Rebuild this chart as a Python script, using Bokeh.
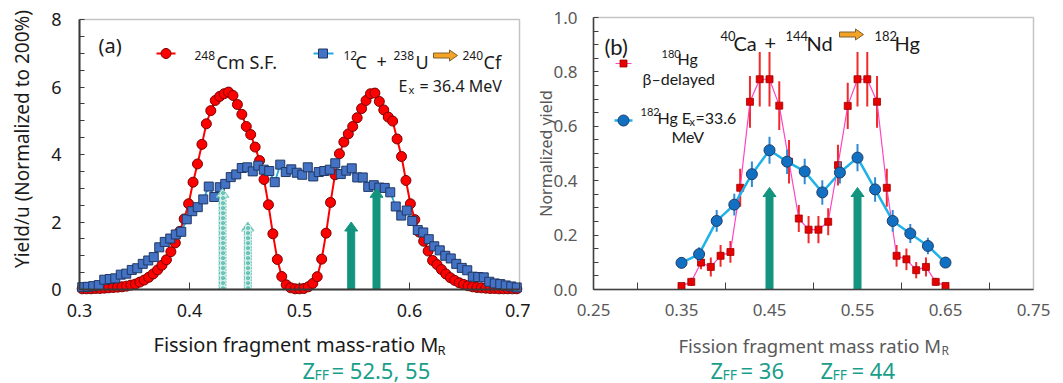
import math
from bokeh.plotting import figure
from bokeh.layouts import row
from bokeh.models import Label, FixedTicker, PrintfTickFormatter, Range1d, BoxAnnotation
from bokeh.embed import file_html
from bokeh.resources import INLINE

# ---------------- Panel (a) data ----------------
cm_compound_mass = 248
cm_mass_number = list(range(75, 174))          # 248Cm S.F. fragment masses
cm_yield = [
    0.02, 0.02, 0.02, 0.03, 0.03, 0.04, 0.05, 0.06, 0.07, 0.08,
    0.10, 0.13, 0.16, 0.22, 0.28, 0.36, 0.46, 0.58, 0.72, 0.88,
    1.12, 1.38, 1.72, 2.09, 2.54, 3.18, 3.72, 4.30, 4.91, 5.30,
    5.60, 5.72, 5.80, 5.85, 5.75, 5.48, 5.19, 4.83, 4.59, 4.22,
    3.82, 3.26, 2.51, 1.65, 0.89, 0.385, 0.14, 0.05, 0.02, 0.02,
    0.03, 0.08, 0.18, 0.38, 0.90, 1.67, 2.58, 3.40, 4.02, 4.37,
    4.61, 4.83, 5.09, 5.36, 5.60, 5.80, 5.82, 5.57, 5.32, 5.11,
    4.99, 4.46, 3.94, 3.23, 2.54, 2.07, 1.70, 1.43, 1.14, 0.86,
    0.74, 0.59, 0.46, 0.35, 0.27, 0.20, 0.15, 0.11, 0.08, 0.06,
    0.05, 0.04, 0.03, 0.03, 0.02, 0.02, 0.02, 0.02, 0.02,
]
cf_mass_ratio = [
    0.3025, 0.3075, 0.3125, 0.3175, 0.3225, 0.3275, 0.3325, 0.3375, 0.3425, 0.3475,
    0.3525, 0.3575, 0.3625, 0.3675, 0.3725, 0.3775, 0.3825, 0.3875, 0.3925, 0.3975,
    0.4025, 0.4075, 0.4125, 0.4175, 0.4225, 0.4275, 0.4325, 0.4375, 0.4425, 0.4475,
    0.4525, 0.4575, 0.4625, 0.4675, 0.4725, 0.4775, 0.4825, 0.4875, 0.4925, 0.4975,
    0.5025, 0.5075, 0.5125, 0.5175, 0.5225, 0.5275, 0.5325, 0.5375, 0.5425, 0.5475,
    0.5525, 0.5575, 0.5625, 0.5675, 0.5725, 0.5775, 0.5825, 0.5875, 0.5925, 0.5975,
    0.6025, 0.6075, 0.6125, 0.6175, 0.6225, 0.6275, 0.6325, 0.6375, 0.6425, 0.6475,
    0.6525, 0.6575, 0.6625, 0.6675, 0.6725, 0.6775, 0.6825, 0.6875, 0.6925, 0.6975,
]
cf_yield = [
    0.07, 0.08, 0.10, 0.13, 0.29, 0.31, 0.33, 0.44, 0.47, 0.58,
    0.63, 0.76, 0.86, 0.96, 1.25, 1.41, 1.51, 1.63, 1.71, 2.08,
    2.32, 2.44, 2.67, 3.05, 2.74, 3.03, 3.13, 3.33, 3.41, 3.60,
    3.62, 3.50, 3.67, 3.55, 3.51, 3.18, 3.70, 3.48, 3.56, 3.46,
    3.40, 3.62, 3.35, 3.48, 3.51, 3.55, 3.74, 3.42, 3.52, 3.59,
    3.32, 3.32, 3.04, 3.09, 3.02, 3.01, 2.88, 2.46, 2.19, 2.34,
    2.03, 1.76, 1.69, 1.49, 1.28, 1.16, 1.00, 0.92, 0.76, 0.64,
    0.57, 0.38, 0.37, 0.36, 0.23, 0.18, 0.16, 0.12, 0.09, 0.06,
]
a_x_ticks = [0.3, 0.4, 0.5, 0.6, 0.7]
a_y_ticks = [0, 2, 4, 6, 8]
a_y_minor = [0.5, 1, 1.5, 2.5, 3, 3.5, 4.5, 5, 5.5, 6.5, 7, 7.5]
a_solid_arrow_x = [0.547, 0.570]
a_solid_arrow_top = [2.0, 3.0]
a_hatched_arrow_x = [0.430, 0.453]
a_hatched_arrow_top = [3.0, 2.0]

# ---------------- Panel (b) data ----------------
hg180_mass_ratio = [0.3500, 0.3611, 0.3722, 0.3833, 0.3944, 0.4056, 0.4167, 0.4278,
                    0.4389, 0.4500, 0.4611, 0.4722, 0.4833, 0.4944, 0.5056, 0.5167,
                    0.5278, 0.5389, 0.5500, 0.5611, 0.5722, 0.5833, 0.5944, 0.6056,
                    0.6167, 0.6278, 0.6389, 0.6500]
hg180_yield = [0.013, 0.028, 0.099, 0.083, 0.124, 0.138, 0.374, 0.690,
               0.773, 0.773, 0.676, 0.470, 0.261, 0.220, 0.220, 0.249,
               0.457, 0.675, 0.773, 0.773, 0.690, 0.374, 0.124, 0.111,
               0.071, 0.083, 0.028, 0.013]
hg180_err = [0.010, 0.015, 0.025, 0.035, 0.040, 0.040, 0.070, 0.095,
             0.100, 0.100, 0.090, 0.080, 0.050, 0.050, 0.050, 0.050,
             0.075, 0.085, 0.100, 0.100, 0.095, 0.070, 0.040, 0.040,
             0.030, 0.035, 0.015, 0.010]
hg182_mass_ratio = [0.35, 0.37, 0.39, 0.41, 0.43, 0.45, 0.47, 0.49,
                    0.51, 0.53, 0.55, 0.57, 0.59, 0.61, 0.63, 0.65]
hg182_yield = [0.098, 0.130, 0.252, 0.312, 0.424, 0.512, 0.470, 0.434,
               0.357, 0.430, 0.485, 0.368, 0.252, 0.206, 0.160, 0.099]
hg182_err = [0.020, 0.025, 0.040, 0.040, 0.047, 0.050, 0.045, 0.047,
             0.045, 0.040, 0.050, 0.045, 0.040, 0.035, 0.030, 0.020]
b_x_ticks = [0.25, 0.35, 0.45, 0.55, 0.65, 0.75]
b_x_minor = [0.3, 0.4, 0.5, 0.6, 0.7]
b_y_ticks = [0.0, 0.2, 0.4, 0.6, 0.8, 1.0]
b_y_minor = [0.05, 0.1, 0.15, 0.25, 0.3, 0.35, 0.45, 0.5, 0.55, 0.65, 0.7, 0.75, 0.85, 0.9, 0.95]
b_arrow_x = [0.45, 0.55]
b_arrow_top = [0.375, 0.375]

# ---------------- styles ----------------
NOTO = "Noto Sans"
LATO = "Lato"
TEAL = "#12947f"
TEAL_TXT = "#1a9e8a"
GREY = "#595959"
BLACK = "#1a1a1a"

# layout (pixels inside each panel's canvas)
H = 383
A_W, A_L, A_R, A_T, A_B = 530, 79, 519, 19, 289
B_W, B_L, B_R, B_T, B_B = 533, 63, 503, 17, 289
A_X0, A_X1, A_Y0, A_Y1 = 0.3, 0.7, 0.0, 8.0
B_X0, B_X1, B_Y0, B_Y1 = 0.25, 0.75, 0.0, 1.0


def make_conv(L, R, T, B, x0, x1, y0, y1):
    sx = (R - L) / (x1 - x0)
    sy = (B - T) / (y1 - y0)

    def conv(px, py):
        return x0 + (px - L) / sx, y0 + (B - py) / sy
    return conv, sx, sy


conv_a, SXA, SYA = make_conv(A_L, A_R, A_T, A_B, A_X0, A_X1, A_Y0, A_Y1)
conv_b, SXB, SYB = make_conv(B_L, B_R, B_T, B_B, B_X0, B_X1, B_Y0, B_Y1)


def text(p, conv, txt, px, py, size, font=NOTO, color=BLACK, align="left",
         baseline="alphabetic", angle=0.0):
    x, y = conv(px, py)
    p.add_layout(Label(x=x, y=y, text=txt, text_font=font,
                       text_font_size=f"{size}px", text_color=color,
                       text_align=align, text_baseline=baseline, angle=angle))


def v_arrows(xs_c, tops, sx, sy, shaft=3.5, head=6.5, hl=9):
    xs, ys = [], []
    for xc, top in zip(xs_c, tops):
        ds, dh, dy = shaft / sx, head / sx, hl / sy
        xs.append([xc - ds, xc - ds, xc - dh, xc, xc + dh, xc + ds, xc + ds])
        ys.append([0, top - dy, top - dy, top, top - dy, top - dy, 0])
    return xs, ys


def h_arrow(p, conv, px0, px1, pyc, hs=2.5, hh=5.5, hl=8):
    pts = [(px0, pyc - hs), (px1 - hl, pyc - hs), (px1 - hl, pyc - hh), (px1, pyc),
           (px1 - hl, pyc + hh), (px1 - hl, pyc + hs), (px0, pyc + hs)]
    xs, ys = zip(*[conv(a, b) for a, b in pts])
    p.patch(list(xs), list(ys), fill_color="#f5a324", line_color="#7a6230", line_width=1)


def base_fig(W, conv, x0, x1, y0, y1, frame_color, frame_width):
    # the plotting frame spans the whole canvas so that texts outside the data box
    # are not clipped; the axes are pinned to the data box with fixed_location
    (xa, ya), (xb, yb) = conv(0, H), conv(W, 0)
    p = figure(frame_width=W, frame_height=H, min_border=0,
               x_range=Range1d(xa, xb), y_range=Range1d(ya, yb),
               output_backend="svg", toolbar_location=None)
    p.grid.visible = False
    p.outline_line_color = None
    p.background_fill_color = "white"
    p.border_fill_color = "white"
    p.xaxis.fixed_location = y0
    p.yaxis.fixed_location = x0
    p.xaxis.bounds = (x0, x1)
    p.yaxis.bounds = (y0, y1)
    for ax in (p.xaxis[0], p.yaxis[0]):
        ax.axis_line_color = frame_color
        ax.axis_line_width = frame_width
        ax.major_tick_line_color = frame_color
        ax.minor_tick_line_color = frame_color
        ax.major_tick_out = 0
        ax.minor_tick_out = 0
        ax.major_label_text_font = NOTO
    p.add_layout(BoxAnnotation(left=x0, right=x1, bottom=y0, top=y1, fill_alpha=0,
                               line_color=frame_color, line_width=1.5, level="underlay"))
    return p


# ================= Panel (a) =================
pa = base_fig(A_W, conv_a, A_X0, A_X1, A_Y0, A_Y1, "#3a3a3a", 2)
for ax in (pa.xaxis[0], pa.yaxis[0]):
    ax.major_label_text_font_size = "18px"
    ax.major_label_text_color = BLACK
pa.xaxis.ticker = FixedTicker(ticks=a_x_ticks)
pa.xaxis.formatter = PrintfTickFormatter(format="%.1f")
pa.xaxis.major_tick_in = 7
pa.xaxis.major_label_standoff = 14
pa.yaxis.ticker = FixedTicker(ticks=a_y_ticks, minor_ticks=a_y_minor)
pa.yaxis.major_tick_in = 5
pa.yaxis.minor_tick_in = 5
pa.yaxis.major_label_standoff = 18

cm_ratio = [a / cm_compound_mass for a in cm_mass_number]
pa.line(cm_ratio, cm_yield, line_color="#ff0000", line_width=2)
pa.scatter(cm_ratio, cm_yield, marker="circle", size=10, fill_color="#ff0000",
           line_color="#7a0000", line_width=1)
pa.line(cf_mass_ratio, cf_yield, line_color="#25a8e0", line_width=1.8)
pa.scatter(cf_mass_ratio, cf_yield, marker="square", size=9, fill_color="#4472c4",
           line_color="#1f3864", line_width=1)

hx, hy = v_arrows(a_hatched_arrow_x, a_hatched_arrow_top, SXA, SYA)
pa.patches(hx, hy, fill_color="#d3efea", line_color="#6cc4b7", line_width=1,
           line_dash="2 1", hatch_pattern="ring", hatch_color="#3aae9e",
           hatch_scale=5, hatch_weight=1.2)
sx_, sy_ = v_arrows(a_solid_arrow_x, a_solid_arrow_top, SXA, SYA)
pa.patches(sx_, sy_, fill_color=TEAL, line_color=TEAL, line_width=1)

# legend (a)
lx, ly = zip(*[conv_a(156, 53), conv_a(175, 53)])
pa.line(list(lx), list(ly), line_color="#ff0000", line_width=2)
mx, my = conv_a(165.5, 53)
pa.scatter([mx], [my], marker="circle", size=10, fill_color="#ff0000",
           line_color="#7a0000", line_width=1)
lx, ly = zip(*[conv_a(313, 53), conv_a(333, 53)])
pa.line(list(lx), list(ly), line_color="#25a8e0", line_width=1.8)
mx, my = conv_a(322.5, 53)
pa.scatter([mx], [my], marker="square", size=9, fill_color="#4472c4",
           line_color="#1f3864", line_width=1)

text(pa, conv_a, "(a)", 98, 45, 20)
text(pa, conv_a, "248", 194, 55, 12)
text(pa, conv_a, "Cm S.F.", 216, 61, 18)
text(pa, conv_a, "12", 343, 55, 12)
text(pa, conv_a, "C", 355, 61, 18)
text(pa, conv_a, "+", 376, 61, 18)
text(pa, conv_a, "238", 393, 55, 12)
text(pa, conv_a, "U", 415, 61, 18)
h_arrow(pa, conv_a, 433, 457, 55)
text(pa, conv_a, "240", 462, 55, 12)
text(pa, conv_a, "Cf", 483, 61, 18)
text(pa, conv_a, "E", 398, 85, 16)
text(pa, conv_a, "x", 408, 89, 11)
text(pa, conv_a, "= 36.4 MeV", 419, 85, 16)
text(pa, conv_a, "Fission fragment mass-ratio M", 153, 344, 20)
text(pa, conv_a, "R", 437, 349, 13)
text(pa, conv_a, "Z", 302, 369, 22, color=TEAL_TXT)
text(pa, conv_a, "FF", 314, 374, 14, color=TEAL_TXT)
text(pa, conv_a, "= 52.5, 55", 331, 369, 22, color=TEAL_TXT)
text(pa, conv_a, "Yield/u (Normalized to 200%)", 21, 138.5, 19, align="center",
     baseline="middle", angle=math.pi / 2)

# ================= Panel (b) =================
pb = base_fig(B_W, conv_b, B_X0, B_X1, B_Y0, B_Y1, "#404040", 1.5)
for ax in (pb.xaxis[0], pb.yaxis[0]):
    ax.major_label_text_font_size = "17px"
    ax.major_label_text_color = GREY
pb.xaxis.ticker = FixedTicker(ticks=b_x_ticks, minor_ticks=b_x_minor)
pb.xaxis.formatter = PrintfTickFormatter(format="%.2f")
pb.xaxis.major_tick_in = 0
pb.xaxis.minor_tick_in = 7
pb.xaxis.major_label_standoff = 14
pb.yaxis.ticker = FixedTicker(ticks=b_y_ticks, minor_ticks=b_y_minor)
pb.yaxis.formatter = PrintfTickFormatter(format="%.1f")
pb.yaxis.major_tick_in = 5
pb.yaxis.minor_tick_in = 5
pb.yaxis.major_label_standoff = 16

lo = [y - e for y, e in zip(hg180_yield, hg180_err)]
hi = [y + e for y, e in zip(hg180_yield, hg180_err)]
pb.segment(hg180_mass_ratio, lo, hg180_mass_ratio, hi, line_color="#f02a2a", line_width=2)
pb.line(hg180_mass_ratio, hg180_yield, line_color="#ff44c4", line_width=1.2)
pb.scatter(hg180_mass_ratio, hg180_yield, marker="square", size=7, fill_color="#e60000",
           line_color="#a00000", line_width=0.8)

lo = [y - e for y, e in zip(hg182_yield, hg182_err)]
hi = [y + e for y, e in zip(hg182_yield, hg182_err)]
pb.line(hg182_mass_ratio, hg182_yield, line_color="#1fb2e8", line_width=2.5)
pb.segment(hg182_mass_ratio, lo, hg182_mass_ratio, hi, line_color="#2f8bd8", line_width=2)
pb.scatter(hg182_mass_ratio, hg182_yield, marker="circle", size=11, fill_color="#1170c2",
           line_color="#1f3d6b", line_width=1)

bx, by = v_arrows(b_arrow_x, b_arrow_top, SXB, SYB)
pb.patches(bx, by, fill_color=TEAL, line_color=TEAL, line_width=1)

# legend (b)
lx, ly = zip(*[conv_b(85, 63), conv_b(101, 63)])
pb.line(list(lx), list(ly), line_color="#ff44c4", line_width=1.2)
mx, my = conv_b(93, 63)
pb.scatter([mx], [my], marker="square", size=7, fill_color="#e60000",
           line_color="#a00000", line_width=0.8)
lx, ly = zip(*[conv_b(84, 120), conv_b(102, 120)])
pb.line(list(lx), list(ly), line_color="#1fb2e8", line_width=2.5)
mx, my = conv_b(93, 120)
pb.scatter([mx], [my], marker="circle", size=11, fill_color="#1170c2",
           line_color="#1f3d6b", line_width=1)

text(pb, conv_b, "(b)", 74, 46, 22, font=LATO)
text(pb, conv_b, "40", 190, 35, 13, font=LATO)
text(pb, conv_b, "Ca", 203, 42, 20, font=LATO)
text(pb, conv_b, "+", 234, 42, 20, font=LATO)
text(pb, conv_b, "144", 255, 35, 13, font=LATO)
text(pb, conv_b, "Nd", 276, 42, 20, font=LATO)
h_arrow(pb, conv_b, 309, 333, 34)
text(pb, conv_b, "182", 344, 35, 13, font=LATO)
text(pb, conv_b, "Hg", 364, 42, 20, font=LATO)

text(pb, conv_b, "180", 131, 53, 11, font=LATO)
text(pb, conv_b, "Hg", 147, 58, 16, font=LATO)
text(pb, conv_b, "\u03b2\u2013delayed", 112, 78, 16, font=LATO)
text(pb, conv_b, "182", 110, 111, 11, font=LATO)
text(pb, conv_b, "Hg E", 127, 117, 16, font=LATO)
text(pb, conv_b, "x", 159, 121, 11, font=LATO)
text(pb, conv_b, "=33.6", 165, 117, 16, font=LATO)
text(pb, conv_b, "MeV", 141, 136, 16, font=LATO)

text(pb, conv_b, "Fission fragment mass ratio M", 148, 345, 18.5, color=GREY)
text(pb, conv_b, "R", 411, 350, 12, color=GREY)
text(pb, conv_b, "Normalized yield", 15, 153, 16, color=GREY, align="center",
     baseline="middle", angle=math.pi / 2)
text(pb, conv_b, "Z", 180, 369, 22, color=TEAL_TXT)
text(pb, conv_b, "FF", 192, 374, 14, color=TEAL_TXT)
text(pb, conv_b, "= 36", 210, 369, 22, color=TEAL_TXT)
text(pb, conv_b, "Z", 290, 369, 22, color=TEAL_TXT)
text(pb, conv_b, "FF", 302, 374, 14, color=TEAL_TXT)
text(pb, conv_b, "= 44", 321, 369, 22, color=TEAL_TXT)

layout = row(pa, pb, spacing=0)
open("out.html", "w").write(file_html(layout, INLINE))
